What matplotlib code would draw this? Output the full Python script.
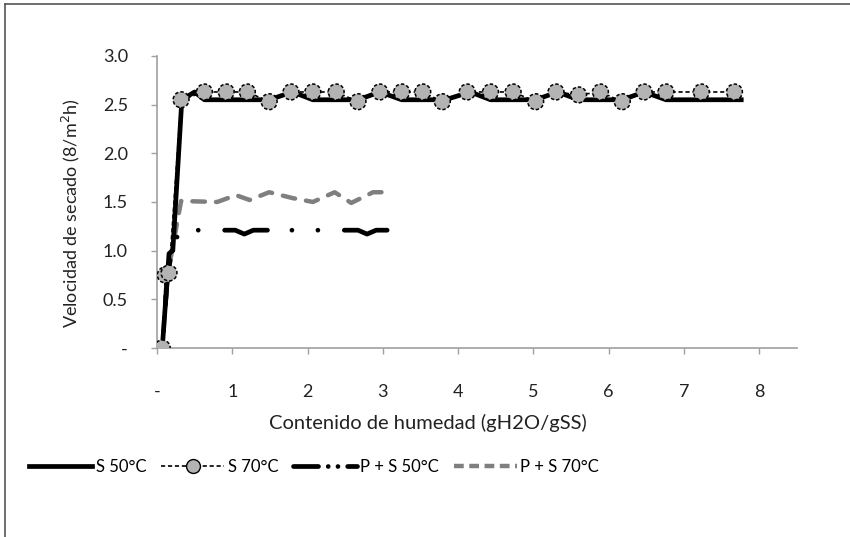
import matplotlib
matplotlib.use("Agg")
import matplotlib.pyplot as plt
from matplotlib.lines import Line2D

plt.rcParams["font.family"] = ["Lato", "DejaVu Sans"]
plt.rcParams["lines.scale_dashes"] = False

# drying curves: moisture content (gH2O/gSS) vs drying rate
s50_x = [0.07, 0.16, 0.21, 0.33, 0.50, 0.63, 0.92, 1.20, 1.49, 1.80, 2.07, 2.38,
         2.67, 2.96, 3.25, 3.53, 3.83, 4.16, 4.43, 4.72, 5.03, 5.32, 5.60, 5.89,
         6.18, 6.47, 6.76, 7.23, 7.76]
s50_y = [0.0, 0.97, 1.00, 2.55, 2.63, 2.55, 2.55, 2.55, 2.55, 2.63, 2.55, 2.55,
         2.55, 2.63, 2.55, 2.55, 2.55, 2.63, 2.55, 2.55, 2.55, 2.63, 2.55, 2.55,
         2.55, 2.63, 2.55, 2.55, 2.55]

s70_x = [0.07, 0.11, 0.16, 0.32, 0.63, 0.92, 1.20, 1.49, 1.78, 2.07, 2.38, 2.67,
         2.96, 3.25, 3.53, 3.79, 4.12, 4.43, 4.73, 5.03, 5.30, 5.60, 5.89, 6.18,
         6.47, 6.76, 7.23, 7.67]
s70_y = [0.0, 0.75, 0.77, 2.55, 2.63, 2.63, 2.63, 2.53, 2.63, 2.63, 2.63, 2.53,
         2.63, 2.63, 2.63, 2.53, 2.63, 2.63, 2.63, 2.53, 2.63, 2.60, 2.63, 2.53,
         2.63, 2.63, 2.63, 2.63]

ps50_x = [0.07, 0.14, 0.20, 0.30, 0.63, 1.04, 1.16, 1.28, 1.78, 2.07, 2.38, 2.67,
          2.79, 2.91, 3.10]
ps50_y = [0.0, 0.75, 1.00, 1.21, 1.21, 1.21, 1.17, 1.21, 1.21, 1.21, 1.21, 1.21,
          1.17, 1.21, 1.21]

ps70_x = [0.07, 0.14, 0.20, 0.32, 0.80, 1.05, 1.23, 1.49, 1.80, 2.07, 2.36, 2.58, 2.87, 3.03]
ps70_y = [0.0, 0.75, 1.00, 1.51, 1.50, 1.57, 1.52, 1.60, 1.54, 1.50, 1.60, 1.49, 1.60, 1.60]

x_ticks = [0, 1, 2, 3, 4, 5, 6, 7, 8]
x_labels = ["-", "1", "2", "3", "4", "5", "6", "7", "8"]
y_ticks = [0, 0.5, 1.0, 1.5, 2.0, 2.5, 3.0]
y_labels = ["-", "0.5", "1.0", "1.5", "2.0", "2.5", "3.0"]

fig = plt.figure(figsize=(8.5, 5.37), dpi=100)
ax = fig.add_axes([0.1847, 0.352, 0.7529, 0.5438])

ax.plot(ps70_x, ps70_y, color="#7f7f7f", lw=3.2, linestyle=(4, (9, 8)),
        dash_capstyle="round", zorder=2)
ax.plot(ps50_x, ps50_y, color="black", lw=3.4,
        linestyle=(56, (32, 17.6, 0.01, 18.7, 0.01, 19)),
        dash_capstyle="round", dash_joinstyle="round", zorder=2)
ax.plot(s50_x, s50_y, color="black", lw=3.4, solid_joinstyle="round", zorder=3)
ax.plot(s70_x, s70_y, color="black", lw=1.2, dashes=(3, 2), zorder=4)
ax.scatter(s70_x, s70_y, s=130, facecolor="#b3b3b3", edgecolor="black",
           linewidths=1.1, linestyle=(0, (2.5, 1.5)), zorder=5)

ax.set_xlim(0, 8.5)
ax.set_ylim(0, 3.0)
ax.set_xticks(x_ticks)
ax.set_xticklabels(x_labels)
ax.set_yticks(y_ticks)
ax.set_yticklabels(y_labels)
ax.tick_params(axis="both", colors="#a0a0a0", labelcolor="#222222",
               labelsize=13, length=4, width=1)
ax.tick_params(axis="y", pad=17)
ax.tick_params(axis="x", pad=22)
for side in ["top", "right"]:
    ax.spines[side].set_visible(False)
for side in ["left", "bottom"]:
    ax.spines[side].set_color("#a0a0a0")
    ax.spines[side].set_linewidth(1.2)

fig.text(71 / 850, 1 - 213 / 537, "Velocidad de secado (8/m$^2$h)", rotation=90,
         ha="center", va="center", fontsize=13, color="#222222")
fig.text(428 / 850, 1 - 423 / 537, "Contenido de humedad (gH2O/gSS)",
         ha="center", va="center", fontsize=14.5, color="#222222")

handles = [
    Line2D([], [], color="black", lw=3.4),
    Line2D([], [], color="black", lw=1.2, dashes=(3, 2), marker="o", markersize=10,
           markerfacecolor="#b3b3b3", markeredgecolor="black"),
    Line2D([], [], color="black", lw=3.4, linestyle=(0, (18, 7, 0.01, 7, 0.01, 7)),
           dash_capstyle="round"),
    Line2D([], [], color="#7f7f7f", lw=3.2, dashes=(7, 4)),
]
labels = ["S 50°C", "S 70°C", "P + S 50°C", "P + S 70°C"]
fig.legend(handles, labels, loc="center", bbox_to_anchor=(314 / 850, 1 - 467 / 537),
           ncol=4, frameon=False, fontsize=12, handlelength=3.8, handletextpad=0.2,
           columnspacing=0.9)

# outer frame of the chart area
fig.add_artist(Line2D([5 / 850, 5 / 850], [0, 1 - 4 / 537], color="#555555", lw=1.2,
                      transform=fig.transFigure))
fig.add_artist(Line2D([5 / 850, 1], [1 - 4 / 537, 1 - 4 / 537], color="#555555",
                      lw=1.2, transform=fig.transFigure))

fig.savefig("out.png", dpi=100)
